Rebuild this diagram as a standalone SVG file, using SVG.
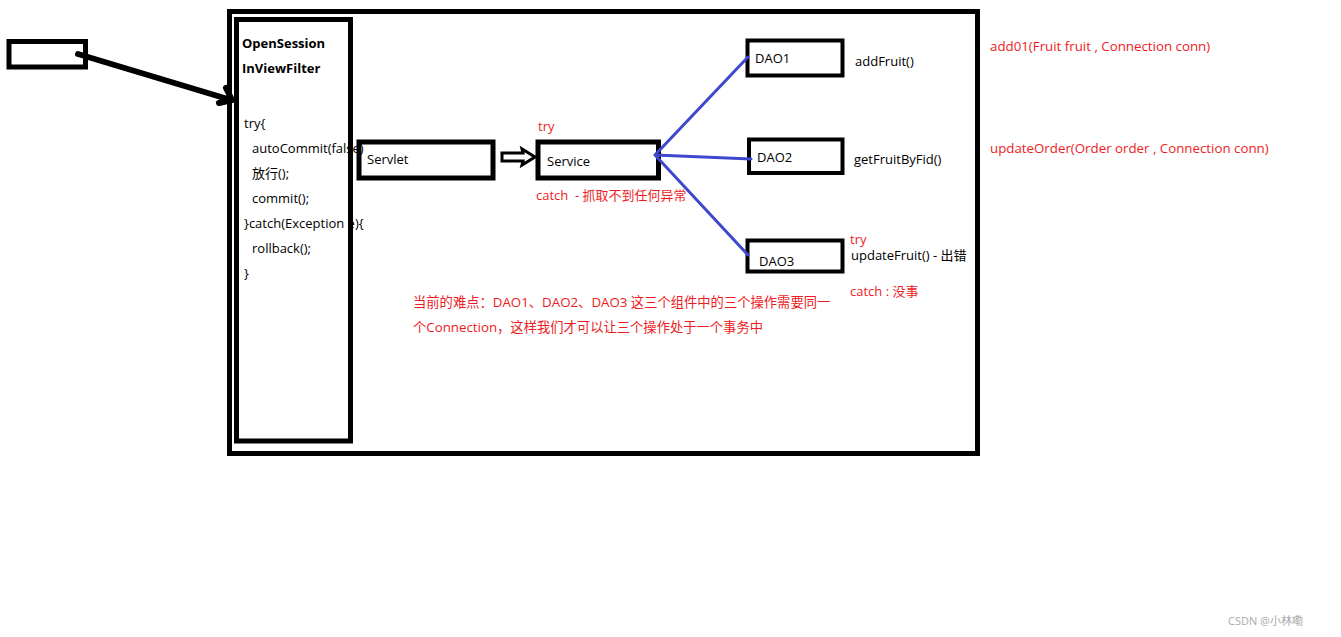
<svg xmlns="http://www.w3.org/2000/svg" width="1341" height="637" viewBox="0 0 1341 637">
<style>
text{font-family:"Open Sans","Noto Sans CJK SC",sans-serif;font-size:13px;fill:#000}
.b{font-weight:bold}
.r{fill:#ed1c24}
.n{font-size:13.3px}
.box{fill:none;stroke:#000;stroke-width:5}
.box4{fill:none;stroke:#000;stroke-width:4}
.blue{stroke:#3f48cc;stroke-width:3;fill:none;stroke-linecap:round}
.wm{fill:#aaa;font-size:11px}
</style>
<rect width="1341" height="637" fill="#fff"/>
<g id="filter-text">
<text class="b" x="242" y="48">OpenSession</text>
<text class="b" x="242" y="73">InViewFilter</text>
<text x="244" y="128">try{</text>
<text x="252" y="153">autoCommit(false)</text>
<text x="252" y="178">放行();</text>
<text x="252" y="203">commit();</text>
<text x="244" y="228">}catch(Exception e){</text>
<text x="252" y="253">rollback();</text>
<text x="244" y="278">}</text>
</g>
<g id="frame"><rect class="box" x="229.5" y="11.5" width="748" height="442"/></g>
<g id="filter"><rect class="box" x="236.5" y="19.5" width="114" height="421.5"/></g>
<g id="client"><rect class="box" x="9" y="41.5" width="76.5" height="25.5"/></g>
<g id="servlet"><rect class="box" x="359" y="142" width="134" height="36"/><text x="367" y="164">Servlet</text></g>
<g id="service"><rect class="box" x="538" y="142" width="120.5" height="36"/><text x="547" y="166">Service</text>
<text class="r" x="538" y="131">try</text>
<text class="r" x="536" y="200" xml:space="preserve">catch  - 抓取不到任何异常</text></g>
<g id="dao1"><rect class="box4" x="747.5" y="40.5" width="95" height="35"/><text x="755" y="63">DAO1</text><text x="855" y="66">addFruit()</text></g>
<g id="dao2"><rect class="box4" x="749" y="139.5" width="93.5" height="33.5"/><text x="757" y="162">DAO2</text><text x="854" y="164">getFruitByFid()</text></g>
<g id="dao3"><rect class="box4" x="747.5" y="240.5" width="95" height="31"/><text x="759" y="266">DAO3</text>
<text class="r" x="850" y="244">try</text>
<text x="851" y="260">updateFruit() - 出错</text>
<text class="r" x="850" y="296">catch : 没事</text></g>
<g id="notes">
<text class="r n" x="990" y="51">add01(Fruit fruit , Connection conn)</text>
<text class="r n" x="990" y="153">updateOrder(Order order , Connection conn)</text>
<text class="r n" x="413" y="307">当前的难点：DAO1、DAO2、DAO3 这三个组件中的三个操作需要同一</text>
<text class="r n" x="413" y="332">个Connection，这样我们才可以让三个操作处于一个事务中</text>
</g>
<g id="connectors">
<path d="M78,54 L231,100 M226,88 L232,100 L219,103" fill="none" stroke="#000" stroke-width="6" stroke-linecap="round" stroke-linejoin="round"/>
<path d="M502,153 L523,153 L522,149 L535,157 L522,165 L523,161 L502,161 Z" fill="#fff" stroke="#000" stroke-width="3" stroke-linejoin="miter"/>
<path class="blue" d="M655,155 L748,57 M655,155 L751,159 M655,155 L748,255"/>
</g>
<text class="wm" x="1228" y="625">CSDN @小林嘞</text>
</svg>
